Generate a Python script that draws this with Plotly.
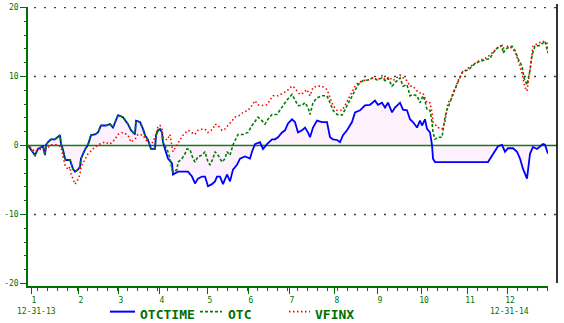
import plotly.graph_objects as go

# ---- data (x = trading-day index in 2014, y = % change) ----
otctime_day = [0,3.5,5,7.5,8.5,9,10,11.5,13.5,16,
               16.5,17.5,18.5,19,21,21.5,22.5,23.5,25,26,
               26.5,28.5,30,31.5,33.5,35,36.5,39,41,42.5,
               44,45,47.5,50,51.5,53.5,54,56,57.5,58.5,
               60,61,61.5,63.5,64,65,66,67,67.5,68.5,
               70,72,72.5,75,80,82,83.5,85,87,88.5,
               90,92,93.5,94.5,96,97.5,99.5,101,102.5,104.5,
               106,108.5,111,112,113.5,116,117.5,119.5,122,123.5,
               125,127,128.5,130,132,133.5,135,137,138.5,140,
               141,142.5,144.5,147,149.5,151,152.5,154.5,156,157.5,
               159.5,162,163.5,166,168.5,171,173.5,175,177,178.5,
               180,182,183.5,186,187.5,189.5,191,192.5,194.5,196,
               197,198.5,199.5,201,202,202.5,203.5,230,232.5,235,
               237,238.5,240,242.5,244.5,246,247.5,249.5,251,252.5,
               254.5,256,257.5,258.5,260]
otctime_val = [0.0,-1.4,-0.5,-0.1,-1.4,0.1,0.5,0.9,0.9,1.5,
               0.2,-0.6,-1.9,-2.1,-2.1,-2.6,-3.4,-3.8,-3.5,-3.1,
               -1.9,-0.6,0.1,1.5,1.6,1.9,2.9,2.9,3.1,2.6,
               3.6,4.4,4.1,3.1,2.2,1.6,3.6,3.4,2.4,1.5,
               0.8,-0.2,-0.5,-0.5,1.5,2.2,2.4,1.9,0.5,-0.5,
               -1.9,-2.6,-4.2,-3.8,-3.8,-4.5,-5.5,-4.8,-4.5,-4.5,
               -5.9,-5.6,-5.2,-4.5,-4.5,-5.6,-4.2,-5.2,-3.5,-2.8,
               -1.9,-1.6,-1.9,-0.9,0.2,0.5,-0.5,0.2,0.9,0.9,
               1.2,1.9,2.2,3.2,3.8,3.4,1.9,2.2,2.6,1.9,
               1.2,2.6,3.6,3.4,3.4,1.2,0.9,0.8,0.5,1.5,
               2.2,3.4,4.8,5.1,5.8,5.9,6.5,5.9,6.2,5.5,
               6.2,4.8,5.5,6.2,5.2,5.1,3.8,3.4,2.6,3.6,
               2.9,3.8,2.4,1.9,0.1,-1.9,-2.4,-2.4,-1.2,-0.1,
               0.1,-0.9,-0.4,-0.4,-0.9,-1.9,-3.4,-4.8,-1.2,-0.2,
               -0.5,-0.2,0.2,0.1,-1.2]

otc_day = otctime_day[:49] + [
    70,71,72,72.5,74.5,75,77,78.5,79.5,81,
    82.5,83.5,85,87,88.5,90,91,92.5,93.5,95,
    97,98.5,99.5,101,102.5,103.5,105,107.5,110,112,
    113.5,115,117,118.5,120,122,124.5,126,127.5,129.5,
    132,133.5,135,137,138.5,140,141,142.5,144.5,147,
    149.5,151,152.5,154.5,157,158.5,161,163.5,165,167.5,
    170,172.5,174.5,177,178.5,180,182,183.5,186,187.5,
    189.5,191,192.5,194.5,196,197.5,198.5,199.5,201,202,
    202.5,203.5,205,207,207.5,208.5,209.5,211,212.5,214.5,
    216,217.5,220,222,223.5,226,228.5,231,232.5,234.5,
    237,237.5,239.5,242,243.5,245,247,248,249.5,251,
    252,253.5,256,257.5,258.5,260]
otc_val = otctime_val[:49] + [
    -0.9,-1.9,-3.5,-3.8,-3.5,-2.4,-1.9,-1.2,-0.5,-0.6,
    -1.9,-2.4,-1.6,-1.4,-0.9,-2.4,-2.8,-1.9,-0.9,-1.4,
    -2.4,-1.9,-0.9,-1.4,0.1,0.8,1.6,1.6,1.9,2.9,
    3.6,4.1,3.6,3.1,3.8,4.5,4.5,5.1,5.8,6.6,
    7.4,6.5,5.8,5.8,6.2,5.5,4.5,6.2,6.9,7.2,
    7.2,6.2,5.1,4.5,4.4,5.2,6.6,8.1,8.8,9.4,
    9.5,9.8,9.5,9.8,9.4,9.8,8.6,9.1,9.8,8.6,
    8.8,7.2,7.4,7.2,6.2,7.2,6.5,5.2,5.1,3.4,
    1.9,0.9,1.2,1.2,2.4,4.1,5.2,6.2,7.6,8.8,
    9.8,10.8,10.9,11.5,11.9,12.2,12.4,12.6,13.4,14.1,
    14.5,13.4,14.1,14.4,13.8,12.6,11.5,9.8,8.8,10.9,
    13.1,14.4,14.5,14.8,15.1,13.4]

vfinx_day = [1,3.5,6.5,8.5,9,11.5,14,16.5,17.5,18.5,
             20,21,21.5,23.5,25,26,26.5,28.5,30,32.5,
             35,38.5,41,43.5,45,47.5,50,51.5,53.5,55,
             57.5,59,61,62.5,64,65,66,67,67.5,69.5,
             71,72,72.5,74.5,76,77.5,80,82,83.5,85,
             87.5,89.5,90,92.5,93.5,95,97,98.5,100,102,
             103.5,106,107.5,110,112,113.5,115,117,119.5,121,
             122.5,125,127.5,129.5,131,132.5,134.5,136,137.5,139.5,
             141,142.5,144.5,147,149.5,151,152.5,154.5,157,158.5,
             161,163.5,165,167.5,170,172.5,175,177,178.5,181,
             182.5,184.5,186,187.5,189.5,191,192.5,194.5,196,197.5,
             199.5,201,202,202.5,203.5,205,207,208.5,210,212,
             213.5,215,217,218.5,220,222,223.5,226,228.5,231,
             233.5,236,237.5,240,242,243.5,245,247,248.5,249.5,
             251,252.5,255,257.5,259.5,260]
vfinx_val = [-0.2,-0.9,-0.5,-0.9,-0.5,0.1,0.1,-0.2,-1.6,-2.8,
             -3.5,-3.1,-4.1,-5.6,-4.9,-4.2,-3.1,-1.9,-1.2,-0.5,
             0.1,0.5,0.2,0.9,1.6,1.9,1.5,0.5,0.9,1.6,
             1.5,0.8,0.2,0.5,1.6,2.8,2.9,2.4,1.2,0.8,
             1.6,-0.2,-0.9,0.1,0.8,1.5,2.2,1.9,1.6,2.2,
             2.4,2.2,1.9,2.4,3.1,2.9,2.2,2.4,2.9,3.6,
             4.1,4.4,4.8,5.1,5.8,6.5,5.9,5.8,5.9,6.6,
             7.2,7.2,7.6,7.9,8.4,8.6,7.9,7.4,7.6,8.1,
             7.2,8.4,8.6,8.6,8.1,6.9,5.8,5.1,5.1,5.8,
             7.2,8.6,9.1,9.4,9.5,9.8,9.5,10.1,9.5,9.8,
             9.4,9.8,10.2,9.8,9.4,8.6,8.6,7.9,7.6,7.6,
             6.2,6.2,4.8,3.4,3.1,2.6,2.4,3.4,6.2,6.9,
             8.1,9.4,10.5,10.9,11.2,11.6,11.9,12.4,12.6,13.1,
             13.8,14.5,14.1,14.4,14.1,13.6,12.4,10.5,8.4,7.9,
             10.9,14.4,14.8,15.1,14.8,13.4]

month_pos = [1.5, 25, 45, 65.5, 89.5, 110, 130.5, 153, 174.5, 196.5, 219.5, 239.5]
month_labels = ["1", "2", "3", "4", "5", "6", "7", "8", "9", "10", "11", "12"]
y_ticks = [20, 10, 0, -10, -20]
y_tick_labels = ["20", "10", "0", "-10", "-20"]
grid_levels = [20, 10, -10]
start_label = "12-31-13"
end_label = "12-31-14"
series_names = ["OTCTIME", "OTC", "VFINX"]

AX = "#007000"
TICKFONT = dict(family="DejaVu Sans Mono", size=8, color=AX)

fig = go.Figure()
fig.add_trace(go.Scatter(x=otctime_day, y=otctime_val, mode="lines", name=series_names[0],
                         line=dict(color="#0000ff", width=1.8),
                         fill="tozeroy", fillcolor="rgba(240,190,240,0.22)"))
fig.add_trace(go.Scatter(x=otc_day, y=otc_val, mode="lines", name=series_names[1],
                         line=dict(color="#008000", width=1.6, dash="3px,2px")))
fig.add_trace(go.Scatter(x=vfinx_day, y=vfinx_val, mode="lines", name=series_names[2],
                         line=dict(color="#ff0000", width=1.6, dash="1.5px,2.5px")))

XR = 1.0173  # right frame position in paper coords

shapes = []
for g in grid_levels:
    shapes.append(dict(type="line", xref="paper", yref="y", x0=0.012, x1=XR, y0=g, y1=g,
                       line=dict(color="black", width=1.5, dash="1.5px,8.5px"), layer="below"))
shapes.append(dict(type="line", xref="paper", yref="y", x0=0, x1=XR, y0=0, y1=0,
                   line=dict(color=AX, width=1.6), layer="below"))
shapes.append(dict(type="line", xref="paper", yref="paper", x0=XR, x1=XR, y0=0.0106, y1=1.0106,
                   line=dict(color="black", width=1.6)))

# legend samples (manual, below the plot)
leg_y = -0.0919
shapes.append(dict(type="line", xref="paper", yref="paper", x0=0.1577, x1=0.2058, y0=leg_y, y1=leg_y,
                   line=dict(color="#0000ff", width=2)))
shapes.append(dict(type="line", xref="paper", yref="paper", x0=0.3308, x1=0.3731, y0=leg_y, y1=leg_y,
                   line=dict(color="#008000", width=1.6, dash="3px,2px")))
shapes.append(dict(type="line", xref="paper", yref="paper", x0=0.5019, x1=0.5423, y0=leg_y, y1=leg_y,
                   line=dict(color="#ff0000", width=1.6, dash="1.5px,2.5px")))

LEGFONT = dict(family="DejaVu Sans Mono", size=13, color=AX, weight="bold")
annotations = [
    dict(text=series_names[0], x=0.2115, y=-0.1025, xref="paper", yref="paper",
         xanchor="left", yanchor="middle", showarrow=False, font=LEGFONT),
    dict(text=series_names[1], x=0.3808, y=-0.1025, xref="paper", yref="paper",
         xanchor="left", yanchor="middle", showarrow=False, font=LEGFONT),
    dict(text=series_names[2], x=0.5481, y=-0.1025, xref="paper", yref="paper",
         xanchor="left", yanchor="middle", showarrow=False, font=LEGFONT),
    dict(text=start_label, x=0.0154, y=-0.0919, xref="paper", yref="paper",
         xanchor="center", yanchor="middle", showarrow=False, font=TICKFONT),
    dict(text=end_label, x=0.925, y=-0.0919, xref="paper", yref="paper",
         xanchor="center", yanchor="middle", showarrow=False, font=TICKFONT),
]

fig.update_layout(
    width=564, height=323,
    margin=dict(l=28, r=16, t=3, b=37),
    paper_bgcolor="white", plot_bgcolor="white",
    showlegend=False,
    shapes=shapes, annotations=annotations,
    xaxis=dict(range=[0, 260], showgrid=False, zeroline=False,
               showline=True, linecolor=AX, linewidth=1.5,
               tickmode="array", tickvals=month_pos, ticktext=month_labels,
               ticks="outside", ticklen=6, tickwidth=1.2, tickcolor=AX,
               ticklabelshift=3, tickfont=TICKFONT,
               minor=dict(tick0=4.5, dtick=5, ticks="outside", ticklen=3,
                          tickwidth=1, tickcolor=AX, showgrid=False)),
    yaxis=dict(range=[-20.36, 20.07], showgrid=False, zeroline=False,
               showline=True, linecolor=AX, linewidth=1.5,
               tickmode="array", tickvals=y_ticks, ticktext=y_tick_labels,
               ticks="outside", ticklen=6, tickwidth=1.2, tickcolor=AX,
               tickfont=TICKFONT, ticklabeloverflow="allow",
               minor=dict(dtick=2, tick0=0, ticks="outside", ticklen=2,
                          tickwidth=1, tickcolor=AX, showgrid=False)),
)

fig.write_html("out.html")
